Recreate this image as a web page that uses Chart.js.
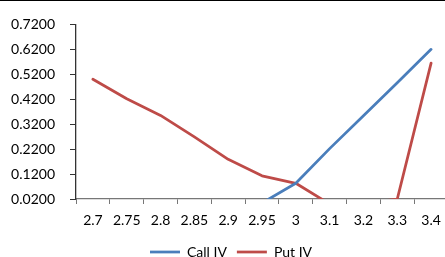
<!DOCTYPE html>
<html>
<head>
<meta charset="utf-8">
<script src="https://cdn.jsdelivr.net/npm/chart.js@4.4.0/dist/chart.umd.min.js"></script>
<style>
  html, body { margin: 0; padding: 0; background: #fff; overflow: hidden; }
  #wrap { width: 468px; height: 256px; border-top: 1px solid #000; overflow: hidden; position: relative; }
  #wrap canvas { position: absolute; left: 0; top: 0; }
</style>
</head>
<body>
<div id="wrap"><canvas id="chart" width="468" height="268"></canvas></div>
<script>
const strikes = ['2.7', '2.75', '2.8', '2.85', '2.9', '2.95', '3', '3.1', '3.2', '3.3', '3.4'];
const call_iv = [0, 0, 0, 0, 0, 0.004, 0.083, 0.222, 0.354, 0.486, 0.62];
const put_iv = [0.50, 0.422, 0.355, 0.269, 0.179, 0.113, 0.083, 0, 0, 0.02, 0.565];
const y_ticks = [0.02, 0.12, 0.22, 0.32, 0.42, 0.52, 0.62, 0.72];

const ctx = document.getElementById('chart').getContext('2d');

function lineSet(label, data, color) {
  return {
    label: label,
    data: data,
    borderColor: color,
    backgroundColor: color,
    borderWidth: 2.75,
    borderJoinStyle: 'round',
    borderCapStyle: 'round',
    pointRadius: 0,
    pointStyle: 'line',
    tension: 0,
    clip: 0
  };
}

// nudge the legend a little right, the original isn't centred on the canvas
const legendShift = {
  id: 'legendShift',
  afterLayout(chart) {
    chart.legend.left += 7;
    chart.legend.right += 7;
  }
};

const chart = new Chart(ctx, {
  type: 'line',
  data: {
    labels: strikes,
    datasets: [
      lineSet('Call IV', call_iv, '#4A7EBB'),
      lineSet('Put IV', put_iv, '#BE4B48')
    ]
  },
  options: {
    responsive: false,
    animation: false,
    layout: { padding: { top: 19, right: 20, left: 0, bottom: 0 } },
    font: { family: 'Lato', size: 14 },
    plugins: {
      legend: {
        position: 'bottom',
        labels: {
          usePointStyle: true,
          pointStyleWidth: 30,
          padding: 10,
          color: '#000',
          font: { family: 'Lato', size: 14 }
        }
      },
      tooltip: { enabled: false }
    },
    scales: {
      x: {
        offset: true,
        grid: { offset: true, drawOnChartArea: false, tickLength: 5, color: '#777', lineWidth: 1 },
        border: { color: '#777', width: 1.3 },
        ticks: { color: '#000', padding: 8, maxRotation: 0, autoSkip: false, font: { family: 'Lato', size: 14 } },
        afterFit: axis => { axis.height = 36; }
      },
      y: {
        min: 0.02,
        max: 0.72,
        afterBuildTicks: axis => { axis.ticks = y_ticks.map(v => ({ value: v })); },
        grid: { drawOnChartArea: false, tickLength: 6, color: '#333', lineWidth: 1 },
        border: { color: '#333', width: 1.3 },
        ticks: {
          color: '#000',
          padding: 15,
          font: { family: 'Lato', size: 14 },
          callback: v => Number(v).toFixed(4)
        },
        afterFit: axis => { axis.width = 76; }
      }
    }
  },
  plugins: [legendShift]
});
</script>
</body>
</html>
